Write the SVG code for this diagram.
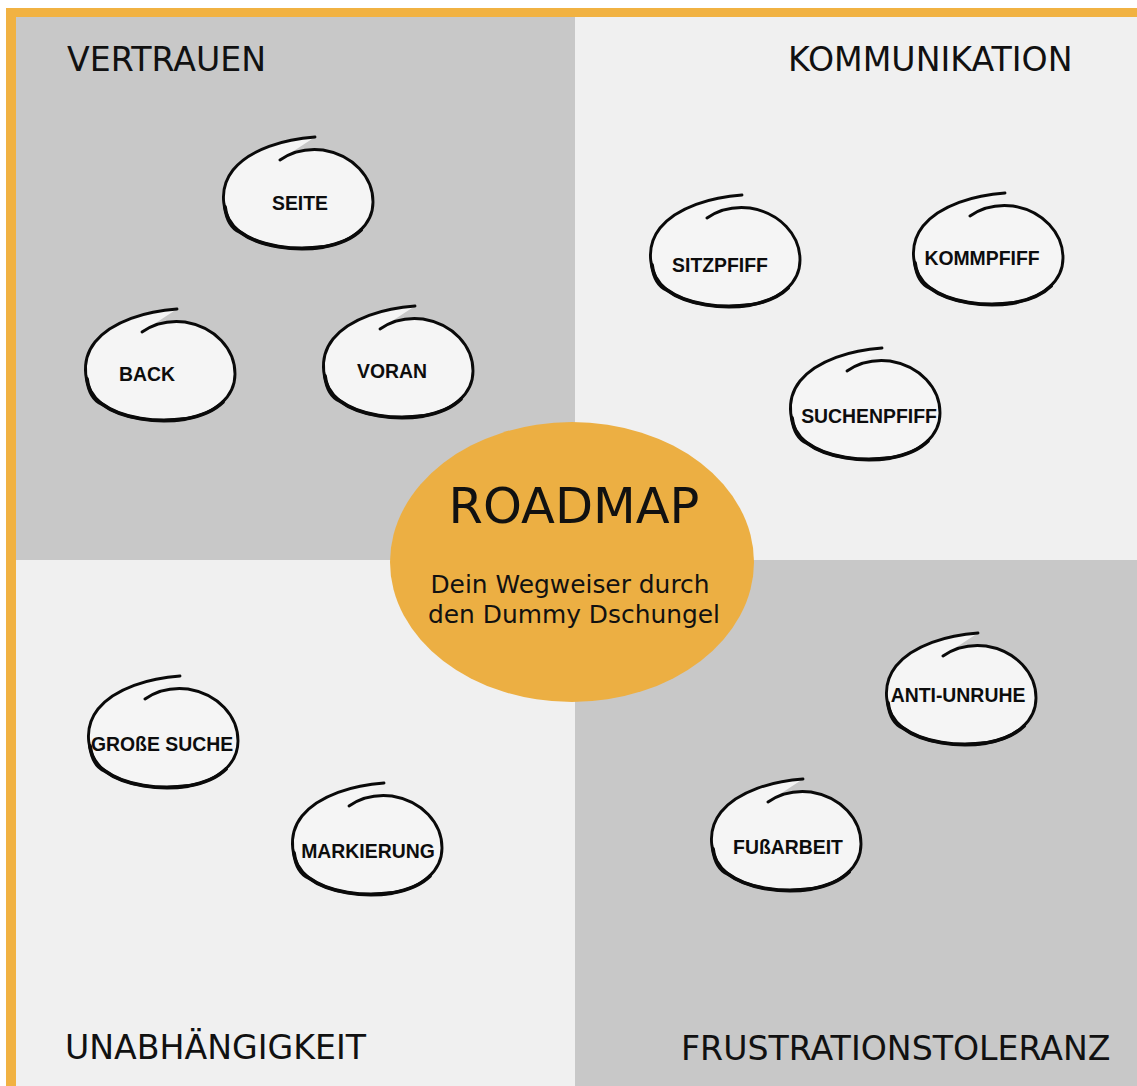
<svg xmlns="http://www.w3.org/2000/svg" xmlns:xlink="http://www.w3.org/1999/xlink" width="1137" height="1086" viewBox="0 0 1137 1086">
<style>
.q{font-family:"DejaVu Sans",Verdana,sans-serif;font-size:33.2px;fill:#111}
.lbl{font-family:"Liberation Sans",Arial,sans-serif;font-weight:bold;font-size:19.4px;fill:#0d0d0d;text-anchor:middle}
.blob{fill:#f5f5f5;stroke:#0a0a0a;stroke-width:2.9;stroke-linecap:round;stroke-linejoin:round}
.thick{fill:none;stroke:#0a0a0a;stroke-width:3.8;stroke-linecap:round}
</style>
<defs>
<g id="bubble">
<path class="blob" d="M0,0 C-30,2 -65,12 -82,33 C-97,52 -94,80 -75,95 C-55,110 -20,114 8,110 C38,105 58,88 58,65 C58,40 38,18 8,13 C-10,11 -25,16 -35,23"/>
<path class="thick" d="M-90,70 C-88,85 -82,92 -75,95 C-55,110 -20,114 8,110 C25,107 38,101 46,93"/>
</g>
</defs>
<rect x="0" y="0" width="1137" height="1086" fill="#ffffff"/>
<g id="quadrants">
<rect x="16" y="17" width="559" height="543" fill="#c8c8c8"/>
<rect x="575" y="17" width="562" height="543" fill="#f0f0f0"/>
<rect x="16" y="560" width="559" height="526" fill="#f0f0f0"/>
<rect x="575" y="560" width="562" height="526" fill="#c8c8c8"/>
</g>
<g id="border" fill="#f1b242">
<rect x="6" y="8" width="1131" height="9"/>
<rect x="6" y="8" width="10" height="1078"/>
</g>
<g id="quadrant-labels">
<text class="q" x="67" y="71">VERTRAUEN</text>
<text class="q" x="788" y="71">KOMMUNIKATION</text>
<text class="q" x="65" y="1059">UNABHÄNGIGKEIT</text>
<text class="q" x="681" y="1060">FRUSTRATIONSTOLERANZ</text>
</g>
<g id="connectors"></g>
<g id="roadmap">
<ellipse cx="572" cy="562" rx="182" ry="140" fill="#ecaf43"/>
<text x="574" y="523" text-anchor="middle" font-family="DejaVu Sans, Verdana, sans-serif" font-size="49.5" fill="#111">ROADMAP</text>
<text x="570" y="593" text-anchor="middle" font-family="DejaVu Sans, Verdana, sans-serif" font-size="24.9" fill="#111">Dein Wegweiser durch</text>
<text x="574" y="623" text-anchor="middle" font-family="DejaVu Sans, Verdana, sans-serif" font-size="24.9" fill="#111">den Dummy Dschungel</text>
</g>
<g id="seite"><use xlink:href="#bubble" transform="translate(315,137)"/><text class="lbl" x="300" y="210">SEITE</text></g>
<g id="back"><use xlink:href="#bubble" transform="translate(177,309)"/><text class="lbl" x="147" y="381">BACK</text></g>
<g id="voran"><use xlink:href="#bubble" transform="translate(415,306)"/><text class="lbl" x="392" y="378">VORAN</text></g>
<g id="sitzpfiff"><use xlink:href="#bubble" transform="translate(742,195)"/><text class="lbl" x="720" y="272">SITZPFIFF</text></g>
<g id="kommpfiff"><use xlink:href="#bubble" transform="translate(1005,193)"/><text class="lbl" x="982" y="265">KOMMPFIFF</text></g>
<g id="suchenpfiff"><use xlink:href="#bubble" transform="translate(882,348)"/><text class="lbl" x="869" y="423">SUCHENPFIFF</text></g>
<g id="grosse-suche"><use xlink:href="#bubble" transform="translate(180,676)"/><text class="lbl" x="162" y="751">GROßE SUCHE</text></g>
<g id="markierung"><use xlink:href="#bubble" transform="translate(384,783)"/><text class="lbl" x="368" y="858">MARKIERUNG</text></g>
<g id="anti-unruhe"><use xlink:href="#bubble" transform="translate(978,633)"/><text class="lbl" x="958" y="702">ANTI-UNRUHE</text></g>
<g id="fussarbeit"><use xlink:href="#bubble" transform="translate(803,779)"/><text class="lbl" x="788" y="854">FUßARBEIT</text></g>
</svg>
